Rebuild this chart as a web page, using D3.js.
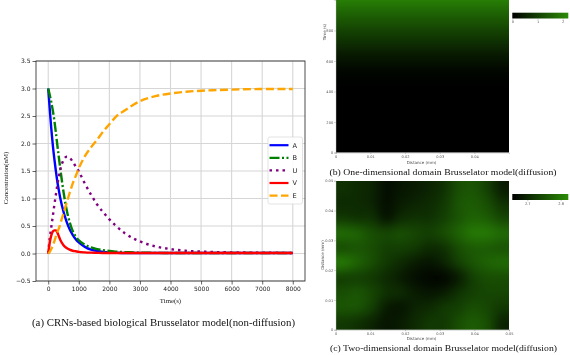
<!DOCTYPE html>
<html><head><meta charset="utf-8">
<script src="https://cdn.jsdelivr.net/npm/d3@7"></script>
<style>body{margin:0;background:#fff}#wrap{position:relative;width:570px;height:355px}
#cv,#c{position:absolute;left:0;top:0;display:block}</style>
</head><body>
<div id="wrap"><canvas id="cv" width="570" height="355"></canvas><svg id="c" width="570" height="355"></svg></div>
<script>
// ---------- data: panel (a) ----------
const times = [0,50,100,150,200,250,300,350,400,500,600,700,800,900,1000,1200,1400,1600,1800,2000,2200,2500,2800,3000,3500,4000,4500,5000,5500,6000,7000,8000];
const seriesA = [3.0,2.62,2.27,1.97,1.72,1.50,1.30,1.14,0.99,0.76,0.58,0.44,0.34,0.26,0.20,0.12,0.07,0.05,0.03,0.02,0.015,0.01,0.01,0.01,0.01,0.01,0.01,0.01,0.01,0.01,0.01,0.01];
const seriesB = [3.0,2.88,2.75,2.60,2.42,2.20,1.96,1.74,1.52,1.12,0.80,0.57,0.41,0.31,0.24,0.16,0.11,0.08,0.06,0.045,0.035,0.025,0.02,0.015,0.012,0.01,0.01,0.01,0.01,0.01,0.01,0.01];
const seriesU = [0.0,0.28,0.48,0.68,0.88,1.07,1.25,1.41,1.54,1.70,1.76,1.74,1.67,1.58,1.49,1.27,1.07,0.89,0.75,0.62,0.51,0.37,0.27,0.22,0.13,0.08,0.05,0.035,0.025,0.02,0.015,0.01];
const seriesV = [0.0,0.20,0.33,0.40,0.42,0.42,0.38,0.31,0.24,0.15,0.10,0.07,0.05,0.04,0.03,0.02,0.015,0.012,0.01,0.01,0.01,0.01,0.01,0.01,0.01,0.01,0.01,0.01,0.01,0.01,0.01,0.01];
const seriesE = [0.0,0.03,0.08,0.15,0.22,0.31,0.39,0.46,0.55,0.73,0.92,1.10,1.27,1.41,1.55,1.77,1.93,2.07,2.22,2.35,2.48,2.60,2.71,2.77,2.86,2.91,2.94,2.96,2.97,2.98,2.99,2.99];
const seriesNames = ["A","B","U","V","E"];
const xTicks = [0,1000,2000,3000,4000,5000,6000,7000,8000];
const yTicks = [-0.5,0,0.5,1,1.5,2,2.5,3,3.5];

// ---------- data: panel (b) ----------
const timeRows1D = [1000,950,900,850,800,750,700,650,600,550,500,450,400,350,300,250,200,150,100,50,0];
const value1D = [2.0,1.75,1.5,1.28,1.05,0.85,0.65,0.45,0.28,0.15,0.06,0.02,0,0,0,0,0,0,0,0,0];
const xTicksDist = [0,0.01,0.02,0.03,0.04];
const yTicks1D = [0,200,400,600,800];
const cbTicks1D = [0,1,2];

// ---------- data: panel (c) (rows top -> bottom) ----------
const grid2D = [
 [2.714,2.705,2.697,2.672,2.680,2.689,2.697,2.714,2.747,2.756,2.731,2.689],
 [2.705,2.705,2.697,2.672,2.689,2.697,2.705,2.722,2.756,2.764,2.747,2.714],
 [2.722,2.714,2.714,2.680,2.705,2.714,2.714,2.731,2.756,2.773,2.764,2.739],
 [2.781,2.773,2.747,2.739,2.747,2.739,2.731,2.747,2.773,2.798,2.798,2.781],
 [2.747,2.756,2.747,2.731,2.731,2.722,2.705,2.714,2.747,2.764,2.764,2.756],
 [2.798,2.773,2.747,2.722,2.705,2.689,2.680,2.697,2.731,2.756,2.773,2.781],
 [2.731,2.731,2.722,2.705,2.689,2.672,2.663,2.663,2.689,2.731,2.747,2.747],
 [2.747,2.756,2.739,2.714,2.705,2.689,2.680,2.689,2.714,2.731,2.739,2.739],
 [2.756,2.756,2.731,2.689,2.680,2.697,2.705,2.722,2.731,2.747,2.739,2.722],
 [2.722,2.714,2.697,2.680,2.689,2.705,2.722,2.722,2.747,2.764,2.747,2.697]
];
const xTicks2D = [0,0.01,0.02,0.03,0.04,0.05];
const yTicks2D = [0,0.01,0.02,0.03,0.04,0.05];
const cbTicks2D = [2.7,2.8];

const svg = d3.select("#c");
const defs = svg.append("defs");
const ctx = document.getElementById("cv").getContext("2d");

// ================= Panel (a) =================
const x = d3.scaleLinear().domain([-400,8400]).range([36,305]);
const y = d3.scaleLinear().domain([-0.5,3.5]).range([281,61]);
const ga = svg.append("g");
ga.append("rect").attr("x",36).attr("y",61).attr("width",269).attr("height",220).attr("fill","#fff");
ga.selectAll(".gx").data(xTicks).join("line").attr("x1",d=>x(d)).attr("x2",d=>x(d)).attr("y1",61).attr("y2",281)
  .attr("stroke","#d6d6d6").attr("stroke-width",1.1);
ga.selectAll(".gy").data(yTicks).join("line").attr("y1",d=>y(d)).attr("y2",d=>y(d)).attr("x1",36).attr("x2",305)
  .attr("stroke","#d6d6d6").attr("stroke-width",1.1);

const fmtY = d => d3.format(".1f")(d).replace("-","\u2212");
const xAxis = ga.append("g").attr("transform","translate(0,281)")
  .call(d3.axisBottom(x).tickValues(xTicks).tickSize(3.5).tickPadding(2).tickFormat(d3.format("d")));
const yAxis = ga.append("g").attr("transform","translate(36,0)")
  .call(d3.axisLeft(y).tickValues(yTicks).tickSize(3.5).tickPadding(2).tickFormat(fmtY));
[xAxis,yAxis].forEach(a=>{
  a.select(".domain").remove();
  a.selectAll("line").attr("stroke","#222").attr("stroke-width",0.7);
  a.selectAll("text").attr("font-family","DejaVu Sans").attr("font-size",6).attr("fill","#222");
});
ga.append("rect").attr("x",36).attr("y",61).attr("width",269).attr("height",220)
  .attr("fill","none").attr("stroke","#222").attr("stroke-width",0.8);

const styles = {
  A:{c:"#0000ff",dash:null},
  B:{c:"#008000",dash:"10,2.5,2,2.5"},
  U:{c:"#800080",dash:"2.5,4"},
  V:{c:"#ff0000",dash:null},
  E:{c:"#ffa500",dash:"8,3.5"}
};
const seriesData = {A:seriesA,B:seriesB,U:seriesU,V:seriesV,E:seriesE};
const line = d3.line().x((d,i)=>x(times[i])).y(d=>y(d)).curve(d3.curveMonotoneX);
seriesNames.forEach(n=>{
  ga.append("path").datum(seriesData[n]).attr("d",line).attr("fill","none")
    .attr("stroke",styles[n].c).attr("stroke-width",2.4)
    .attr("stroke-dasharray",styles[n].dash);
});
const lg = ga.append("g");
lg.append("rect").attr("x",268).attr("y",137).attr("width",34.5).attr("height",67).attr("rx",2)
  .attr("fill","#fff").attr("fill-opacity",0.9).attr("stroke","#d0d0d0").attr("stroke-width",0.6);
seriesNames.forEach((n,i)=>{
  const yy = 145.2 + i*12.6;
  lg.append("line").attr("x1",269.5).attr("x2",288.5).attr("y1",yy).attr("y2",yy)
    .attr("stroke",styles[n].c).attr("stroke-width",2.2).attr("stroke-dasharray",styles[n].dash);
  lg.append("text").attr("x",292.5).attr("y",yy+2.3).text(n)
    .attr("font-family","DejaVu Sans").attr("font-size",6.6).attr("fill","#222");
});
ga.append("text").attr("x",x(4000)).attr("y",303).attr("text-anchor","middle").text("Time(s)")
  .attr("font-family","Liberation Serif").attr("font-size",6.8).attr("fill","#222");
ga.append("text").attr("transform","translate(7.5,178) rotate(-90)").attr("text-anchor","middle").text("Concentration(nM)")
  .attr("font-family","Liberation Serif").attr("font-size",6.8).attr("fill","#222");
ga.append("text").attr("x",163.5).attr("y",326).attr("text-anchor","middle")
  .text("(a) CRNs-based biological Brusselator model(non-diffusion)")
  .attr("font-family","Liberation Serif").attr("font-size",9.6).attr("fill","#111")
  .attr("textLength",263).attr("lengthAdjust","spacingAndGlyphs");

function smallAxisText(sel){
  sel.selectAll("text").attr("font-family","DejaVu Sans").attr("font-size",3.6).attr("fill","#555");
  sel.selectAll("line").attr("stroke","#777").attr("stroke-width",0.4);
  sel.select(".domain").attr("stroke","#999").attr("stroke-width",0.4);
}
// draw a value grid (rows x cols) into the canvas, smoothly scaled into a rectangle
function drawGrid(rows, color, x0, y0, w, h, clip){
  const nr = rows.length, nc = rows[0].length;
  const off = document.createElement("canvas"); off.width = nc; off.height = nr;
  const octx = off.getContext("2d");
  rows.forEach((row,r)=>row.forEach((v,c)=>{ octx.fillStyle = color(v); octx.fillRect(c,r,1,1); }));
  ctx.save();
  ctx.beginPath(); ctx.rect(clip[0],clip[1],clip[2],clip[3]); ctx.clip();
  ctx.imageSmoothingEnabled = true; ctx.imageSmoothingQuality = "high";
  ctx.drawImage(off, 0, 0, nc, nr, x0, y0, w, h);
  ctx.restore();
}

// ================= Panel (b) =================
const colB = d3.scaleLinear().domain([0,2.22]).range(["#000000","#2b8c06"]);
const xb = d3.scaleLinear().domain([0,0.05]).range([335.7,509]);
const yb = d3.scaleLinear().domain([0,1000]).range([152.5,0]);
// each row value covers +-25 s around its time
drawGrid(value1D.map(v=>[v]), colB, xb(0), yb(timeRows1D[0]+25), xb(0.05)-xb(0), yb(timeRows1D[timeRows1D.length-1]-25)-yb(timeRows1D[0]+25),
  [xb(0), yb(1000), xb(0.05)-xb(0), yb(0)-yb(1000)]);
const xbAx = svg.append("g").attr("transform","translate(0,152.5)")
  .call(d3.axisBottom(xb).tickValues(xTicksDist).tickSize(1.5).tickPadding(1).tickFormat(d=>d===0?"0":d3.format(".2f")(d)));
const ybAx = svg.append("g").attr("transform","translate(335.7,0)")
  .call(d3.axisLeft(yb).tickValues(yTicks1D).tickSize(1.5).tickPadding(1).tickFormat(d3.format("d")));
smallAxisText(xbAx); smallAxisText(ybAx);
svg.append("text").attr("x",421.5).attr("y",163.5).attr("text-anchor","middle").text("Distance (mm)")
  .attr("font-family","DejaVu Sans").attr("font-size",4).attr("fill","#444");
svg.append("text").attr("transform","translate(325.5,32) rotate(-90)").attr("text-anchor","middle").text("Time (s)")
  .attr("font-family","DejaVu Sans").attr("font-size",4).attr("fill","#444");
const cbxB = d3.scaleLinear().domain([0,2.22]).range([512.3,568.3]);
const gradB = defs.append("linearGradient").attr("id","gradB");
gradB.selectAll("stop").data([0,0.5,1,1.5,2,2.22]).join("stop")
  .attr("offset",d=>(d/2.22*100)+"%").attr("stop-color",d=>colB(d));
svg.append("rect").attr("x",512.3).attr("y",12.7).attr("width",56).attr("height",5.8).attr("fill","url(#gradB)");
const cbBAx = svg.append("g").attr("transform","translate(0,18.5)")
  .call(d3.axisBottom(cbxB).tickValues(cbTicks1D).tickSize(1.2).tickPadding(1).tickFormat(d3.format("d")));
smallAxisText(cbBAx); cbBAx.select(".domain").remove();
svg.append("text").attr("x",443).attr("y",174.5).attr("text-anchor","middle")
  .text("(b) One-dimensional domain Brusselator model(diffusion)")
  .attr("font-family","Liberation Serif").attr("font-size",8.6).attr("fill","#111")
  .attr("textLength",227).attr("lengthAdjust","spacingAndGlyphs");

// ================= Panel (c) =================
const colC = d3.scaleLinear().domain([2.655,2.823]).range(["#000000","#2b8c06"]);
const xc = d3.scaleLinear().domain([0,0.05]).range([335.7,509]);
const yc = d3.scaleLinear().domain([0,0.05]).range([329.7,180.7]);
drawGrid(grid2D, colC, xc(0), yc(0.05), xc(0.05)-xc(0), yc(0)-yc(0.05),
  [xc(0), yc(0.05), xc(0.05)-xc(0), yc(0)-yc(0.05)]);
const xcAx = svg.append("g").attr("transform","translate(0,329.7)")
  .call(d3.axisBottom(xc).tickValues(xTicks2D).tickSize(1.5).tickPadding(1).tickFormat(d=>d===0?"0":d3.format(".2f")(d)));
const ycAx = svg.append("g").attr("transform","translate(335.7,0)")
  .call(d3.axisLeft(yc).tickValues(yTicks2D).tickSize(1.5).tickPadding(1).tickFormat(d=>d===0?"0":d3.format(".2f")(d)));
smallAxisText(xcAx); smallAxisText(ycAx);
svg.append("text").attr("x",421.5).attr("y",339.5).attr("text-anchor","middle").text("Distance (mm)")
  .attr("font-family","DejaVu Sans").attr("font-size",4).attr("fill","#444");
svg.append("text").attr("transform","translate(323.5,255) rotate(-90)").attr("text-anchor","middle").text("Distance (mm)")
  .attr("font-family","DejaVu Sans").attr("font-size",4).attr("fill","#444");
const cbxC = d3.scaleLinear().domain([2.655,2.823]).range([512.3,568.3]);
const gradC = defs.append("linearGradient").attr("id","gradC");
gradC.selectAll("stop").data([2.655,2.7,2.75,2.8,2.823]).join("stop")
  .attr("offset",d=>((d-2.655)/0.168*100)+"%").attr("stop-color",d=>colC(d));
svg.append("rect").attr("x",512.3).attr("y",194).attr("width",56).attr("height",6).attr("fill","url(#gradC)");
const cbCAx = svg.append("g").attr("transform","translate(0,200)")
  .call(d3.axisBottom(cbxC).tickValues(cbTicks2D).tickSize(1.2).tickPadding(1).tickFormat(d3.format(".1f")));
smallAxisText(cbCAx); cbCAx.select(".domain").remove();
svg.append("text").attr("x",443.5).attr("y",350.5).attr("text-anchor","middle")
  .text("(c) Two-dimensional domain Brusselator model(diffusion)")
  .attr("font-family","Liberation Serif").attr("font-size",8.6).attr("fill","#111")
  .attr("textLength",227).attr("lengthAdjust","spacingAndGlyphs");
</script>
</body></html>
